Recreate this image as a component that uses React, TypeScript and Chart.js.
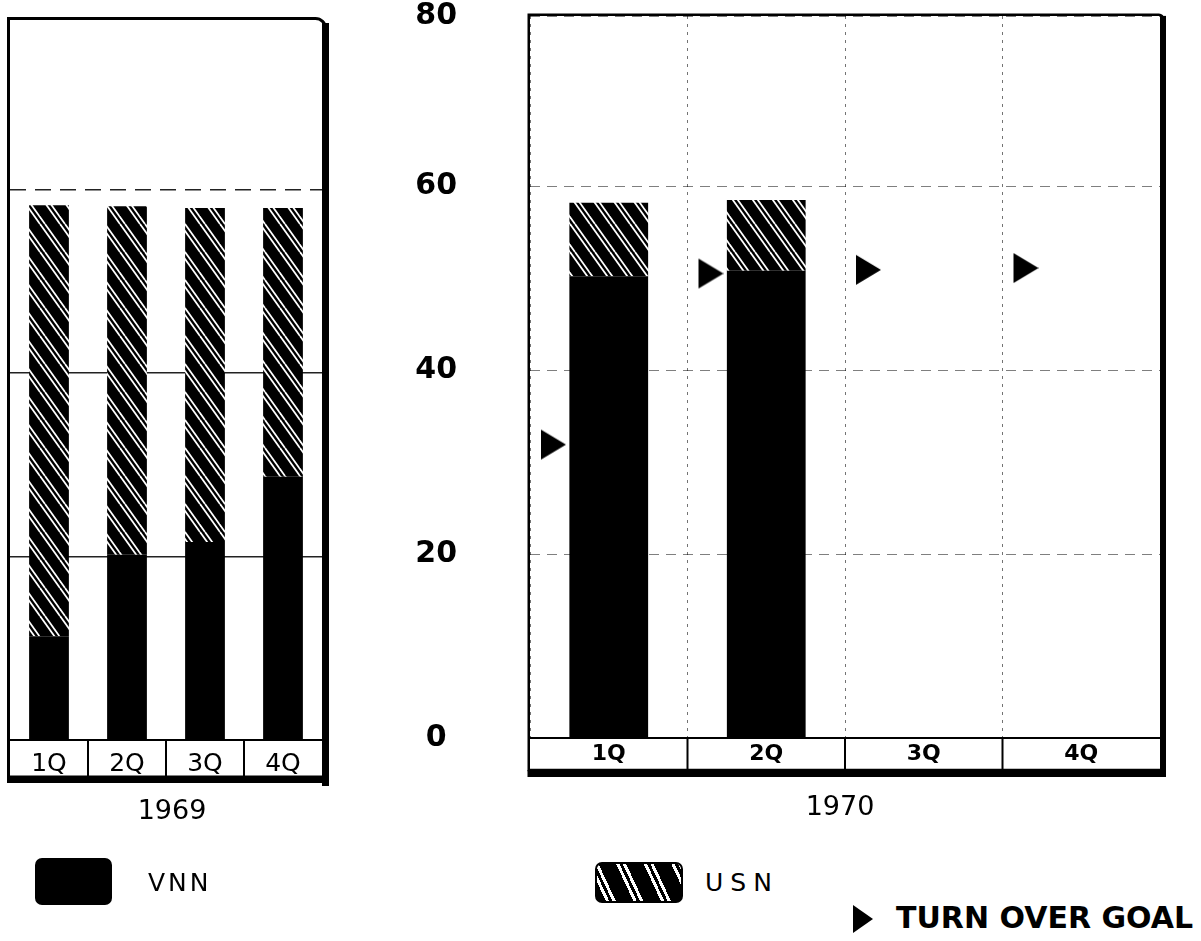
import React, { useEffect, useRef } from 'react';
import { Chart, registerables } from 'chart.js';

Chart.register(...registerables);

// ---- data ----
const quarters = ['1Q', '2Q', '3Q', '4Q'];
const vnn1969 = [11.3, 20.2, 21.6, 28.7];
const usn1969 = [47.0, 38.0, 36.4, 29.3];
const vnn1970 = [50.2, 50.8, null, null];
const usn1970 = [8.0, 7.7, null, null];
const goal1970 = [31.9, 50.5, 50.9, 51.1];
const yTickValues = [0, 20, 40, 60, 80];
const yTickLabels = ['0', '20', '40', '60', '80'];
const Y_TOP = 78.5; // value at the frame's top edge (the "80" line of the original)

function makeHatchTile(): HTMLCanvasElement {
  const w = 20, h = 28;
  const c = document.createElement('canvas');
  c.width = w; c.height = h;
  const ctx = c.getContext('2d')!;
  ctx.fillStyle = '#000';
  ctx.fillRect(0, 0, w, h);
  ctx.strokeStyle = '#fff';
  ctx.lineWidth = 1.8;
  for (const o of [0, 5]) {
    for (const k of [-1, 0, 1]) {
      ctx.beginPath();
      ctx.moveTo(o + k * w, 0);
      ctx.lineTo(o + k * w + w, h);
      ctx.stroke();
    }
  }
  return c;
}

function makeTriangle(): HTMLCanvasElement {
  const off = 11, tw = 25, th = 30;
  const c = document.createElement('canvas');
  c.width = 2 * (off + tw);
  c.height = th + 2;
  const ctx = c.getContext('2d')!;
  const x0 = off + tw + off;
  ctx.fillStyle = '#000';
  ctx.beginPath();
  ctx.moveTo(x0, 1);
  ctx.lineTo(x0 + tw, 1 + th / 2);
  ctx.lineTo(x0, 1 + th);
  ctx.closePath();
  ctx.fill();
  return c;
}

type FrameCfg = {
  cellH: number; year: string; thin: number; rightW: number; bottomW: number;
  radius: number; sepW: number; yearOffset: number; yearDx: number;
};

function framePlugin(cfg: FrameCfg) {
  return {
    id: 'frame',
    afterDraw(chart: any) {
      const { ctx, chartArea: a, scales } = chart;
      const xs = scales.x;
      const cb = a.bottom + cfg.cellH;
      ctx.save();
      ctx.fillStyle = '#000';
      ctx.strokeStyle = '#000';
      // cell row top line
      ctx.fillRect(a.left, a.bottom - 1, a.right - a.left, 2);
      // cell separators
      for (let i = 1; i < quarters.length; i++) {
        const bx = (xs.getPixelForValue(i - 1) + xs.getPixelForValue(i)) / 2;
        ctx.fillRect(bx - cfg.sepW / 2, a.bottom, cfg.sepW, cfg.cellH);
      }
      // outer thin frame
      ctx.lineWidth = cfg.thin;
      ctx.beginPath();
      const l = a.left - cfg.thin / 2;
      const t = a.top - cfg.thin / 2;
      (ctx as any).roundRect(l, t, a.right + cfg.rightW / 2 - l, cb - t, [0, cfg.radius, 0, 0]);
      ctx.stroke();
      // thick right edge
      ctx.fillRect(a.right, a.top - cfg.thin + cfg.radius * 0.6, cfg.rightW, cb - a.top + cfg.bottomW);
      // thick bottom edge
      ctx.fillRect(a.left - cfg.thin, cb, a.right + cfg.rightW - (a.left - cfg.thin), cfg.bottomW);
      // year label
      ctx.font = '27px "DejaVu Sans"';
      ctx.textAlign = 'center';
      ctx.textBaseline = 'middle';
      ctx.fillText(cfg.year, (a.left + a.right) / 2 + cfg.yearDx, cb + cfg.yearOffset);
      ctx.restore();
    },
  };
}

function setYTicks(scale: any) {
  scale.ticks = yTickValues.map((v) => ({ value: Math.min(v, Y_TOP) }));
}

export default function App() {
  const leftRef = useRef<HTMLCanvasElement>(null);
  const rightRef = useRef<HTMLCanvasElement>(null);

  useEffect(() => {
    document.body.style.margin = '0';
    const lc = leftRef.current!;
    const rc = rightRef.current!;
    const tile = makeHatchTile();
    const hatchL = lc.getContext('2d')!.createPattern(tile, 'repeat');
    const hatchR = rc.getContext('2d')!.createPattern(tile, 'repeat');
    const tri = makeTriangle();

    const left = new Chart(lc, {
      type: 'bar',
      data: {
        labels: quarters,
        datasets: [
          { label: 'VNN', data: vnn1969, backgroundColor: '#000', borderWidth: 0, barPercentage: 0.51, categoryPercentage: 1, grouped: false },
          { label: 'USN', data: usn1969, backgroundColor: hatchL as any, borderWidth: 0, barPercentage: 0.51, categoryPercentage: 1, grouped: false },
        ],
      },
      options: {
        animation: false,
        responsive: false,
        events: [],
        layout: { padding: { left: 10, right: 38, top: 20, bottom: 83 } },
        plugins: { legend: { display: false }, tooltip: { enabled: false } },
        scales: {
          x: {
            stacked: true,
            grid: { display: false },
            border: { display: false },
            ticks: { color: '#000', padding: 1, font: { family: '"DejaVu Sans"', size: 25, lineHeight: 1.2 } },
            afterFit: (s: any) => { s.height = 37; },
          },
          y: {
            stacked: true,
            min: 0,
            max: Y_TOP,
            afterBuildTicks: setYTicks,
            ticks: { display: false },
            grid: {
              drawTicks: false,
              lineWidth: 1.5,
              color: (c: any) => (c.tick && (c.tick.value === 0 || c.tick.value === Y_TOP) ? 'rgba(0,0,0,0)' : '#222'),
            },
            border: { display: false, dash: (c: any) => (c.tick && c.tick.value === 60 ? [16, 9] : []) },
            afterFit: (s: any) => { s.width = 0; s.paddingTop = 0; s.paddingBottom = 0; },
          },
        },
      },
      plugins: [framePlugin({ cellH: 37, year: '1969', thin: 3, rightW: 7, bottomW: 6, radius: 10, sepW: 2, yearOffset: 35, yearDx: 6 })],
    } as any);

    const right = new Chart(rc, {
      type: 'bar',
      data: {
        labels: quarters,
        datasets: [
          {
            type: 'scatter', label: 'TURN OVER GOAL', data: goal1970.map((g, i) => ({ x: i, y: g })),
            xAxisID: 'xg', yAxisID: 'y', pointStyle: tri as any, pointRadius: 12, clip: false, order: -1,
          } as any,
          { label: 'VNN', data: vnn1970, backgroundColor: '#000', borderWidth: 0, barPercentage: 0.5, categoryPercentage: 1, grouped: false },
          { label: 'USN', data: usn1970, backgroundColor: hatchR as any, borderWidth: 0, barPercentage: 0.5, categoryPercentage: 1, grouped: false },
        ],
      },
      options: {
        animation: false,
        responsive: false,
        events: [],
        layout: { padding: { left: 0, right: 41, top: 16, bottom: 90 } },
        plugins: { legend: { display: false }, tooltip: { enabled: false } },
        scales: {
          x: {
            stacked: true,
            grid: { drawTicks: false, color: 'rgba(0,0,0,0.55)', lineWidth: 1 },
            border: { display: false, dash: [3, 5] },
            ticks: { color: '#000', padding: 3, font: { family: '"DejaVu Sans"', size: 22, weight: 'bold' } },
            afterFit: (s: any) => { s.height = 32; },
          },
          xg: { type: 'linear', display: false, min: 0, max: 4, offset: false },
          y: {
            stacked: true,
            min: 0,
            max: Y_TOP,
            afterBuildTicks: setYTicks,
            ticks: {
              color: '#000',
              padding: 73,
              crossAlign: 'center',
              font: { family: '"DejaVu Sans"', size: 30, weight: 'bold', lineHeight: 1 },
              callback: (_v: any, i: number) => yTickLabels[i],
            },
            grid: { drawTicks: false, color: 'rgba(0,0,0,0.5)', lineWidth: 1 },
            border: { display: false, dash: [10, 7] },
            afterFit: (s: any) => { s.width = 160; s.paddingTop = 0; s.paddingBottom = 0; },
          },
        },
      },
      plugins: [framePlugin({ cellH: 32, year: '1970', thin: 2.5, rightW: 6, bottomW: 7, radius: 4, sepW: 2, yearOffset: 38, yearDx: -5 })],
    } as any);

    return () => {
      left.destroy();
      right.destroy();
    };
  }, []);

  const legendText = (extra: React.CSSProperties): React.CSSProperties => ({
    position: 'absolute',
    fontFamily: '"DejaVu Sans"',
    color: '#000',
    whiteSpace: 'nowrap',
    ...extra,
  });

  return (
    <div style={{ position: 'relative', width: 1201, height: 941, background: '#fff', overflow: 'hidden' }}>
      <canvas ref={leftRef} width={360} height={860} style={{ position: 'absolute', left: 0, top: 0, width: 360, height: 860 }} />
      <canvas ref={rightRef} width={831} height={860} style={{ position: 'absolute', left: 370, top: 0, width: 831, height: 860 }} />

      {/* legend */}
      <div style={{ position: 'absolute', left: 35, top: 858, width: 77, height: 47, background: '#000', borderRadius: 7 }} />
      <div style={legendText({ left: 148, top: 870, fontSize: 25, lineHeight: '26px', letterSpacing: 3, fontWeight: 500 })}>VNN</div>

      <div
        style={{
          position: 'absolute', left: 595, top: 862, width: 88, height: 41, borderRadius: 7,
          background: 'repeating-linear-gradient(65deg, #000 0px, #000 8px, #fff 8px, #fff 11px, #000 11px, #000 14px, #fff 14px, #fff 17px, #000 17px, #000 25px)',
          border: '2px solid #000', boxSizing: 'border-box',
        }}
      />
      <div style={legendText({ left: 705, top: 870, fontSize: 25, lineHeight: '26px', letterSpacing: 7, fontWeight: 500 })}>USN</div>

      <div
        style={{
          position: 'absolute', left: 853, top: 905, width: 0, height: 0,
          borderTop: '14px solid transparent', borderBottom: '14px solid transparent', borderLeft: '20px solid #000',
        }}
      />
      <div style={legendText({ left: 896, top: 903, fontSize: 30, lineHeight: '30px', fontWeight: 'bold' })}>TURN OVER GOAL</div>
    </div>
  );
}
